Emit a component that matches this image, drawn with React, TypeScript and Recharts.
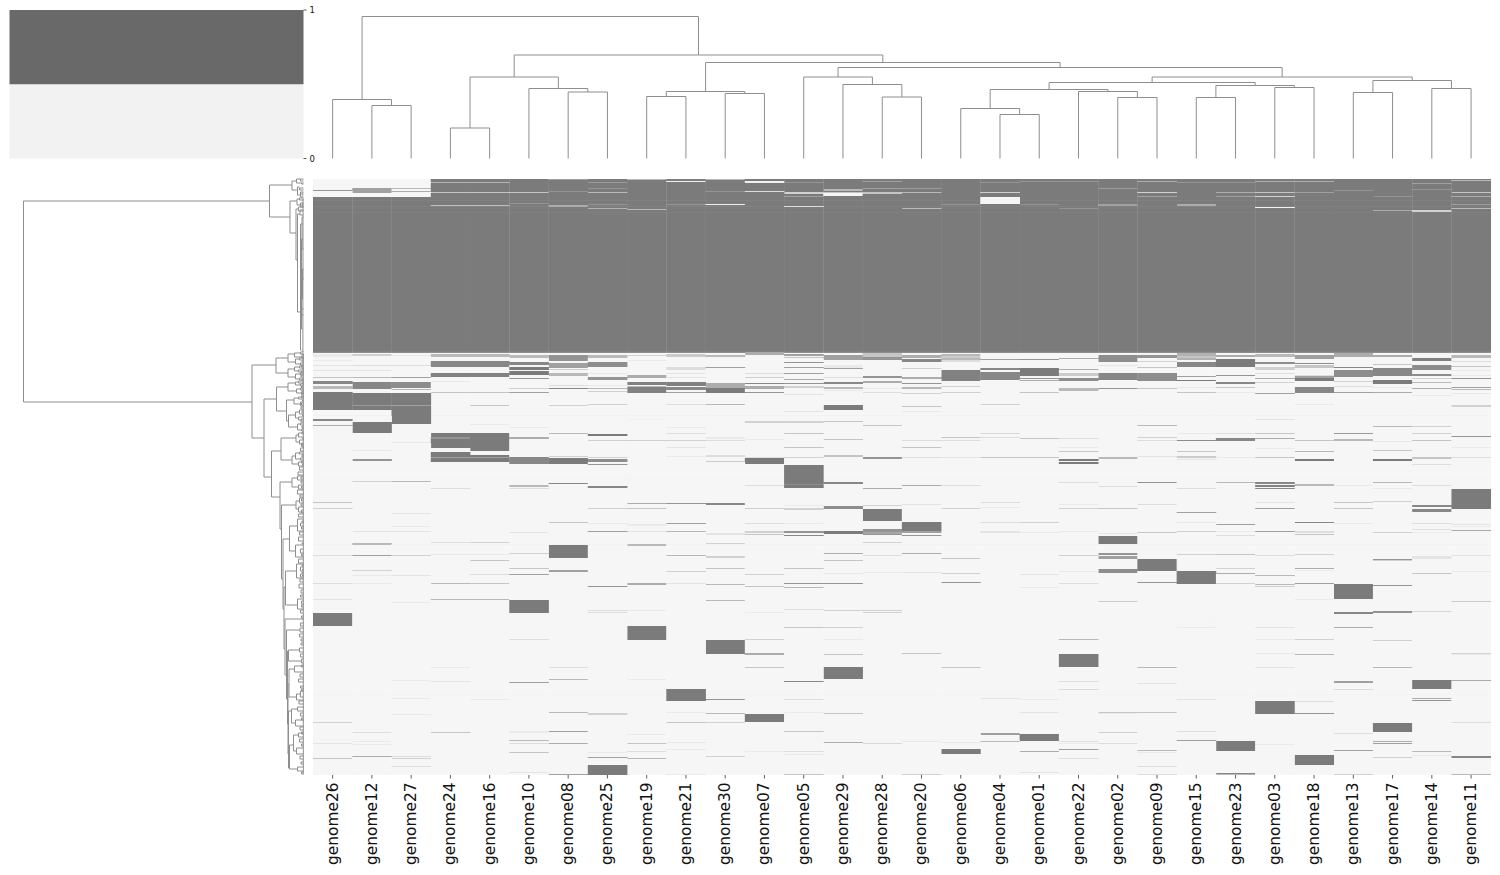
import React from 'react';
import { Bar, BarChart, Line, LineChart, XAxis, YAxis } from 'recharts';

type Band = [number, number, number]; // row, rows tall, level (0 light .. 1 dark)
type Merge = [number, number, number]; // node a, node b, height
type Fork = [number, number, number, number, number]; // rowA, distA, rowB, distB, distMerge

const PAGE_W = 1500;
const PAGE_H = 875;
const ROWS = 596;
const FONT = '"DejaVu Sans", sans-serif';
const LINK = '#8e8e8e';

const genomes = [
  'genome26', 'genome12', 'genome27', 'genome24', 'genome16', 'genome10', 'genome08', 'genome25', 'genome19', 'genome21',
  'genome30', 'genome07', 'genome05', 'genome29', 'genome28', 'genome20', 'genome06', 'genome04', 'genome01', 'genome22',
  'genome02', 'genome09', 'genome15', 'genome23', 'genome03', 'genome18', 'genome13', 'genome17', 'genome14', 'genome11',
];

// rows that every genome shares, the solid core and its faint stripes
const coreBands: Band[] = [[18, 156, 1], [21, 1, 0.96], [27, 1, 0.94], [33, 1, 0.97], [172, 1, 0.95], [173, 1, 0.85], [236, 1, 0.03], [300, 1, 0.02], [365, 1, 0.025], [440, 1, 0.02], [515, 1, 0.025], [560, 1, 0.02]];
const capBand: Band = [0, 18, 1];

const g26: Band[] = [[11, 1, 0.8], [175, 3, 0.1], [181, 1, 0.1], [186, 1, 0.15], [191, 1, 0.15], [198, 1, 0.4], [202, 3, 0.9], [207, 3, 0.5], [213, 18, 1], [240, 2, 0.9], [246, 1, 0.6], [323, 1, 0.4], [329, 1, 0.3], [376, 1, 0.2], [404, 1, 0.2], [420, 1, 0.15], [434, 13, 1], [543, 1, 0.3], [564, 1, 0.15], [579, 1, 0.4]];
const g12: Band[] = [[9, 5, 0.7], [175, 2, 0.3], [186, 1, 0.2], [191, 1, 0.15], [198, 1, 0.5], [203, 7, 0.9], [214, 17, 1], [226, 1, 0.75], [243, 11, 1], [271, 1, 0.1], [280, 2, 0.8], [302, 1, 0.3], [352, 1, 0.15], [364, 2, 0.5], [376, 1, 0.7], [391, 1, 0.3], [396, 1, 0.1], [404, 1, 0.1], [553, 1, 0.2], [562, 1, 0.1], [565, 1, 0.1], [577, 1, 0.6]];
const g27: Band[] = [[9, 1, 0.5], [12, 1, 0.6], [176, 1, 0.1], [186, 1, 0.2], [198, 1, 0.7], [203, 6, 0.85], [210, 1, 0.5], [214, 12, 1], [226, 1, 0.7], [227, 18, 1], [263, 1, 0.1], [302, 1, 0.5], [334, 1, 0.15], [347, 1, 0.1], [352, 1, 0.15], [376, 1, 0.3], [396, 1, 0.15], [423, 1, 0.1], [501, 1, 0.1], [519, 1, 0.1], [535, 1, 0.1], [577, 1, 0.2], [579, 1, 0.3], [587, 1, 0.2]];
const g24: Band[] = [capBand, [3, 1, 0.55], [13, 1, 0.4], [26, 1, 0.45], [175, 3, 0.5], [182, 6, 0.9], [194, 4, 0.95], [202, 1, 0.1], [213, 1, 0.4], [254, 15, 1], [258, 2, 0.8], [273, 10, 1], [278, 1, 0.7], [309, 1, 0.2], [363, 1, 0.2], [375, 1, 0.1], [404, 1, 0.5], [420, 1, 0.5], [488, 1, 0.1], [502, 1, 0.15], [553, 1, 0.4]];
const g16: Band[] = [capBand, [3, 1, 0.55], [13, 1, 0.4], [26, 1, 0.45], [175, 3, 0.5], [182, 6, 0.9], [194, 4, 0.95], [213, 1, 0.4], [226, 1, 0.4], [245, 1, 0.1], [254, 18, 1], [276, 7, 1], [278, 1, 0.7], [363, 1, 0.3], [375, 1, 0.1], [381, 1, 0.4], [395, 1, 0.2], [404, 1, 0.4], [420, 1, 0.5], [520, 1, 0.1]];
const g10: Band[] = [capBand, [13, 1, 0.4], [24, 1, 0.8], [176, 3, 0.5], [183, 3, 0.9], [188, 3, 1], [192, 4, 1], [199, 1, 0.8], [209, 1, 0.3], [213, 1, 0.7], [248, 1, 0.1], [258, 2, 0.6], [278, 7, 0.9], [306, 2, 0.5], [309, 1, 0.2], [353, 1, 0.15], [374, 1, 0.3], [389, 1, 0.4], [395, 1, 0.7], [421, 13, 1], [460, 1, 0.2], [503, 1, 0.7], [552, 2, 0.1], [561, 1, 0.5], [564, 1, 0.2], [573, 1, 0.4], [593, 1, 0.15]];
const g08: Band[] = [capBand, [0, 1, 0.7], [12, 1, 0.8], [26, 2, 0.6], [176, 6, 0.8], [184, 5, 0.7], [190, 1, 0.3], [194, 3, 0.5], [206, 1, 0.2], [209, 1, 0.9], [226, 1, 0.3], [254, 1, 0.5], [277, 1, 0.3], [279, 6, 1], [304, 1, 0.9], [343, 1, 0.4], [366, 13, 1], [391, 2, 0.7], [488, 1, 0.2], [500, 1, 0.5], [533, 1, 0.5], [552, 1, 0.7], [564, 1, 0.6], [595, 1, 0.7]];
const g25: Band[] = [capBand, [3, 1, 0.75], [9, 1, 0.8], [13, 1, 0.5], [25, 1, 0.8], [29, 1, 0.55], [176, 3, 0.5], [183, 5, 0.85], [194, 1, 0.1], [198, 3, 0.8], [206, 1, 0.1], [209, 1, 0.5], [212, 1, 0.3], [225, 1, 0.3], [255, 2, 1], [261, 1, 0.3], [278, 1, 0.3], [280, 3, 0.85], [285, 1, 0.8], [307, 2, 0.9], [329, 1, 0.3], [344, 1, 0.1], [352, 1, 0.7], [407, 1, 0.8], [431, 1, 0.2], [433, 1, 0.2], [534, 2, 0.3], [573, 1, 0.1], [578, 1, 0.7], [586, 10, 1]];
const g19: Band[] = [capBand, [0, 1, 0.5], [30, 1, 0.5], [176, 1, 0.3], [181, 1, 0.1], [196, 3, 0.6], [203, 3, 0.95], [207, 1, 0.5], [208, 6, 0.95], [240, 1, 0.05], [261, 1, 0.3], [324, 1, 0.6], [329, 1, 0.4], [345, 2, 0.1], [352, 1, 0.15], [365, 2, 0.5], [404, 2, 0.6], [431, 1, 0.1], [447, 14, 1], [500, 1, 0.1], [555, 1, 0.1], [564, 1, 0.4], [572, 1, 0.2], [579, 1, 0.5]];
const g21: Band[] = [capBand, [2, 1, 0.05], [25, 1, 0.8], [175, 3, 0.35], [188, 3, 0.2], [194, 1, 0.15], [198, 1, 0.15], [203, 4, 0.95], [208, 3, 0.9], [213, 1, 0.7], [225, 1, 0.2], [248, 1, 0.1], [254, 1, 0.2], [261, 1, 0.3], [268, 1, 0.15], [277, 1, 0.1], [324, 1, 0.8], [344, 1, 0.7], [352, 1, 0.5], [376, 1, 0.5], [392, 1, 0.3], [404, 1, 0.15], [510, 12, 1], [533, 1, 0.1], [543, 1, 0.4], [563, 1, 0.1], [570, 1, 0.1], [595, 1, 0.1]];
const g30: Band[] = [capBand, [0, 1, 0.5], [12, 1, 0.8], [25, 1, 0.05], [176, 2, 0.5], [188, 1, 0.7], [204, 5, 0.6], [209, 5, 1], [225, 1, 0.5], [258, 2, 0.1], [261, 1, 0.2], [276, 2, 0.2], [282, 1, 0.35], [324, 2, 0.9], [354, 2, 0.15], [364, 1, 0.3], [377, 2, 0.3], [389, 1, 0.4], [405, 1, 0.5], [421, 1, 0.5], [461, 14, 1], [520, 1, 0.8], [534, 1, 0.5], [543, 1, 0.3], [577, 1, 0.3]];
const g07: Band[] = [capBand, [2, 2, 0.05], [12, 1, 0.2], [173, 3, 0.6], [194, 1, 0.2], [198, 1, 0.3], [204, 1, 0.9], [207, 3, 0.6], [213, 1, 0.8], [242, 2, 0.3], [260, 1, 0.1], [278, 1, 0.2], [279, 6, 1], [306, 1, 0.2], [329, 1, 0.3], [344, 1, 0.2], [352, 2, 0.3], [355, 1, 0.4], [395, 1, 0.3], [407, 1, 0.4], [433, 1, 0.1], [460, 1, 0.3], [474, 2, 0.6], [488, 1, 0.4], [535, 8, 1], [572, 1, 0.1]];
const g05: Band[] = [capBand, [3, 1, 0.8], [13, 2, 0.3], [17, 1, 0.7], [27, 1, 0.2], [175, 2, 0.7], [178, 1, 0.4], [183, 1, 0.8], [188, 1, 0.7], [194, 1, 0.7], [200, 1, 0.6], [204, 1, 0.8], [207, 2, 0.3], [215, 1, 0.15], [232, 1, 0.15], [242, 2, 0.3], [254, 1, 0.4], [268, 1, 0.4], [278, 1, 0.3], [286, 23, 1], [305, 1, 0.85], [326, 1, 0.1], [329, 2, 0.3], [344, 1, 0.1], [352, 2, 0.8], [356, 1, 0.9], [389, 1, 0.4], [404, 1, 0.8], [408, 1, 0.5], [430, 1, 0.2], [448, 1, 0.4], [502, 1, 0.9], [520, 1, 0.2], [533, 1, 0.1], [552, 1, 0.4], [572, 1, 0.2], [575, 1, 0.1], [595, 1, 0.4]];
const g29: Band[] = [capBand, [10, 2, 0.5], [13, 1, 0.4], [14, 3, 0.02], [176, 5, 0.7], [186, 3, 0.1], [189, 1, 0.7], [198, 1, 0.2], [203, 2, 0.9], [208, 2, 0.5], [211, 1, 0.1], [226, 5, 1], [242, 1, 0.4], [260, 1, 0.4], [276, 2, 0.4], [303, 2, 0.9], [327, 3, 0.85], [352, 3, 1], [374, 1, 0.6], [381, 1, 0.4], [394, 1, 0.1], [404, 1, 0.8], [431, 1, 0.3], [448, 1, 0.3], [460, 1, 0.1], [475, 1, 0.4], [488, 12, 1], [534, 1, 0.4], [563, 1, 0.6]];
const g28: Band[] = [capBand, [2, 1, 0.7], [9, 1, 0.7], [13, 2, 0.4], [174, 4, 0.4], [178, 3, 0.8], [197, 2, 0.8], [202, 2, 0.6], [209, 1, 0.1], [213, 1, 0.2], [246, 1, 0.4], [278, 2, 0.8], [309, 1, 0.6], [326, 1, 0.3], [330, 12, 1], [350, 3, 0.8], [353, 2, 0.65], [355, 1, 0.8], [363, 1, 0.3], [376, 1, 0.2], [393, 1, 0.1], [431, 1, 0.3], [433, 1, 0.3], [564, 1, 0.25]];
const g20: Band[] = [capBand, [9, 1, 0.75], [13, 1, 0.5], [29, 1, 0.5], [176, 3, 0.6], [180, 3, 0.9], [189, 1, 0.3], [198, 2, 0.6], [204, 1, 0.8], [208, 2, 0.5], [214, 1, 0.3], [227, 1, 0.4], [232, 1, 0.1], [261, 1, 0.2], [268, 1, 0.4], [278, 1, 0.2], [306, 1, 0.6], [325, 1, 0.15], [343, 9, 1], [352, 2, 0.7], [356, 1, 0.8], [374, 1, 0.6], [393, 1, 0.15], [474, 1, 0.4], [562, 1, 0.1], [595, 1, 0.3]];
const g06: Band[] = [capBand, [25, 1, 0.8], [175, 2, 0.5], [177, 2, 0.35], [179, 2, 0.5], [181, 2, 0.2], [191, 11, 0.95], [207, 1, 0.3], [213, 1, 0.3], [258, 1, 0.4], [261, 1, 0.2], [278, 1, 0.15], [306, 1, 0.2], [329, 1, 0.3], [379, 1, 0.4], [394, 1, 0.3], [403, 1, 0.8], [488, 1, 0.4], [563, 1, 0.1], [570, 5, 1]];
const g04: Band[] = [capBand, [3, 1, 0.8], [13, 1, 0.3], [18, 7, 0.01], [180, 1, 0.7], [189, 2, 0.9], [193, 5, 0.9], [198, 3, 0.9], [225, 1, 0.3], [254, 1, 0.25], [258, 1, 0.2], [278, 1, 0.4], [323, 1, 0.2], [328, 1, 0.1], [343, 1, 0.2], [352, 2, 0.15], [519, 1, 0.15], [554, 2, 0.7], [562, 1, 0.5]];
const g01: Band[] = [capBand, [2, 1, 0.8], [25, 1, 0.8], [180, 1, 0.8], [189, 8, 1], [199, 1, 0.8], [201, 1, 0.6], [213, 1, 0.4], [259, 1, 0.4], [278, 1, 0.4], [343, 1, 0.3], [353, 1, 0.1], [395, 1, 0.15], [408, 1, 0.1], [520, 1, 0.1], [533, 1, 0.15], [555, 7, 1], [572, 1, 0.6], [593, 1, 0.15]];
const g22: Band[] = [capBand, [2, 1, 0.8], [29, 1, 0.8], [175, 1, 0.02], [179, 1, 0.6], [190, 1, 0.6], [194, 3, 0.35], [199, 3, 0.85], [209, 3, 0.5], [259, 1, 0.2], [268, 1, 0.1], [272, 1, 0.4], [280, 2, 1], [283, 2, 1], [303, 1, 0.2], [325, 1, 0.1], [329, 1, 0.3], [352, 1, 0.1], [376, 1, 0.3], [392, 1, 0.1], [404, 1, 0.2], [460, 1, 0.5], [475, 13, 1], [502, 1, 0.2], [510, 1, 0.2], [562, 1, 0.2], [564, 1, 0.1], [570, 1, 0.7], [579, 1, 0.2]];
const g02: Band[] = [capBand, [9, 1, 0.75], [25, 2, 0.7], [176, 7, 0.85], [186, 1, 0.15], [194, 7, 0.9], [209, 1, 0.8], [278, 2, 0.5], [307, 1, 0.2], [329, 1, 0.4], [354, 1, 0.15], [357, 8, 1], [374, 2, 0.8], [377, 3, 0.7], [390, 4, 0.85], [422, 1, 0.35], [533, 1, 0.4], [534, 1, 0.1], [553, 1, 0.3], [564, 1, 0.2]];
const g09: Band[] = [capBand, [2, 1, 0.6], [13, 1, 0.3], [17, 1, 0.7], [176, 3, 0.8], [182, 1, 0.3], [188, 1, 0.4], [194, 8, 0.85], [209, 1, 0.4], [246, 1, 0.5], [258, 1, 0.3], [261, 1, 0.2], [277, 1, 0.15], [303, 1, 0.8], [325, 1, 0.2], [353, 1, 0.4], [380, 12, 1], [403, 1, 0.8], [488, 1, 0.5], [504, 1, 0.15], [533, 1, 0.4], [571, 1, 0.5], [573, 1, 0.1], [587, 1, 0.2], [595, 1, 0.2]];
const g15: Band[] = [capBand, [3, 1, 0.8], [25, 2, 0.6], [174, 3, 0.55], [177, 2, 0.4], [179, 2, 0.55], [183, 5, 0.9], [197, 1, 0.7], [201, 1, 1], [208, 1, 0.1], [213, 1, 0.4], [254, 1, 0.1], [261, 1, 0.85], [272, 1, 0.4], [277, 2, 0.35], [280, 1, 0.15], [309, 1, 0.2], [333, 1, 0.7], [343, 1, 0.1], [352, 1, 0.3], [375, 1, 0.3], [392, 13, 1], [448, 1, 0.1], [520, 1, 0.15], [552, 1, 0.2], [561, 1, 0.7]];
const g23: Band[] = [capBand, [3, 1, 0.8], [13, 1, 0.6], [17, 1, 0.7], [176, 2, 0.6], [180, 8, 1], [196, 1, 0.8], [203, 2, 0.9], [208, 1, 0.4], [213, 1, 0.1], [254, 1, 0.2], [259, 3, 0.9], [278, 1, 0.1], [303, 1, 0.5], [345, 1, 0.7], [352, 1, 0.1], [356, 1, 0.2], [375, 1, 0.4], [389, 1, 0.3], [394, 1, 0.6], [404, 1, 0.3], [562, 10, 1], [594, 1, 0.9], [595, 1, 0.5]];
const g03: Band[] = [capBand, [2, 1, 0.6], [13, 1, 0.4], [17, 1, 0.3], [28, 1, 0.03], [175, 3, 0.5], [183, 2, 0.85], [188, 3, 0.3], [194, 1, 0.2], [199, 1, 0.6], [203, 1, 0.3], [214, 1, 0.7], [240, 1, 0.15], [254, 1, 0.4], [259, 1, 0.6], [269, 1, 0.1], [278, 1, 0.4], [303, 2, 0.9], [306, 2, 0.95], [309, 1, 0.9], [323, 1, 0.15], [329, 1, 0.7], [352, 1, 0.7], [376, 1, 0.2], [396, 1, 0.5], [405, 1, 0.5], [407, 1, 0.3], [448, 1, 0.15], [460, 1, 0.1], [474, 1, 0.1], [488, 1, 0.15], [522, 13, 1], [565, 1, 0.1]];
const g18: Band[] = [capBand, [2, 1, 0.6], [13, 1, 0.7], [176, 4, 0.7], [184, 1, 0.85], [186, 3, 0.4], [196, 1, 0.2], [197, 2, 0.7], [199, 3, 1], [208, 6, 0.9], [225, 1, 0.1], [261, 1, 0.4], [272, 1, 0.5], [280, 2, 1], [305, 2, 0.5], [343, 1, 0.9], [352, 2, 0.2], [355, 1, 0.4], [375, 1, 0.3], [389, 1, 0.6], [391, 1, 0.1], [404, 1, 0.7], [420, 1, 0.1], [460, 1, 0.3], [475, 1, 0.5], [522, 1, 0.2], [534, 1, 0.8], [576, 10, 1]];
const g13: Band[] = [capBand, [11, 1, 0.8], [174, 4, 0.6], [188, 1, 0.9], [191, 7, 0.85], [202, 1, 0.3], [207, 1, 0.2], [213, 1, 0.7], [254, 1, 0.75], [260, 2, 0.5], [306, 1, 0.1], [323, 1, 0.4], [329, 1, 0.4], [344, 1, 0.1], [405, 15, 1], [433, 2, 0.9], [448, 1, 0.6], [502, 2, 0.7], [510, 1, 0.2], [554, 1, 0.2], [571, 1, 0.7], [595, 1, 0.3]];
const g17: Band[] = [capBand, [17, 1, 0.8], [31, 1, 0.6], [176, 2, 0.6], [185, 1, 0.4], [189, 8, 0.9], [201, 4, 1], [208, 1, 0.1], [213, 1, 0.6], [247, 1, 0.5], [262, 1, 0.1], [271, 1, 0.4], [280, 2, 1], [303, 1, 0.5], [309, 1, 0.1], [322, 1, 0.3], [353, 1, 0.3], [380, 1, 0.8], [381, 1, 0.3], [406, 1, 0.8], [432, 2, 0.8], [461, 1, 0.3], [488, 1, 0.5], [544, 9, 1], [562, 1, 0.6], [564, 1, 0.7], [578, 1, 0.3]];
const g14: Band[] = [capBand, [4, 1, 0.7], [10, 1, 0.8], [31, 2, 0.3], [179, 3, 0.95], [186, 5, 0.85], [195, 2, 0.85], [199, 1, 0.3], [203, 1, 0.5], [209, 1, 0.6], [216, 1, 0.1], [247, 1, 0.3], [254, 1, 0.3], [261, 1, 0.4], [278, 2, 0.4], [285, 1, 0.2], [306, 1, 0.2], [326, 2, 0.9], [330, 3, 0.9], [344, 1, 0.2], [350, 1, 0.2], [353, 1, 0.1], [377, 3, 0.15], [394, 1, 0.4], [432, 1, 0.25], [501, 9, 1], [519, 1, 0.6], [521, 1, 0.8], [572, 1, 0.5], [576, 1, 0.1]];
const g11: Band[] = [capBand, [1, 1, 0.5], [13, 1, 0.4], [17, 1, 0.6], [25, 1, 0.7], [29, 1, 0.5], [176, 3, 0.5], [182, 1, 0.2], [187, 1, 0.4], [191, 1, 0.1], [196, 1, 0.1], [199, 1, 0.8], [208, 1, 0.7], [210, 1, 0.5], [214, 1, 0.1], [226, 2, 0.3], [257, 1, 0.8], [268, 1, 0.1], [278, 1, 0.2], [310, 20, 1], [345, 1, 0.15], [347, 1, 0.1], [351, 1, 0.6], [376, 1, 0.15], [392, 1, 0.1], [422, 1, 0.35], [474, 1, 0.3], [475, 1, 0.1], [501, 1, 0.6], [543, 1, 0.2], [577, 2, 0.9], [595, 1, 0.5]];

const columns = [g26, g12, g27, g24, g16, g10, g08, g25, g19, g21, g30, g07, g05, g29, g28, g20, g06, g04, g01, g22, g02, g09, g15, g23, g03, g18, g13, g17, g14, g11];

// linkage of the columns, leaves are 0..29 and each merge adds the next node id
const columnMerges: Merge[] = [
  [1, 2, 53], [0, 30, 59], [3, 4, 30.5], [6, 7, 66.5], [5, 33, 70], [32, 34, 81.5], [8, 9, 62], [10, 11, 65], [36, 37, 67],
  [14, 15, 61.5], [13, 39, 74], [12, 40, 81.5], [17, 18, 44], [16, 42, 50], [20, 21, 61], [19, 44, 67], [43, 45, 69],
  [22, 23, 61], [24, 25, 71], [47, 48, 73], [46, 49, 76], [26, 27, 66], [28, 29, 70], [51, 52, 78], [50, 53, 81.5],
  [41, 54, 91], [38, 55, 96], [35, 56, 103.5], [31, 57, 142],
];

const mainForks: Fork[] = [
  [22, 34, 223, 51.5, 280], [6, 11.5, 38, 13.5, 34], [22, 6.5, 54, 7.5, 13.5], [30, 5, 81, 6, 7.5], [35, 3.5, 133, 3, 6],
  [45, 1, 171, 2, 3], [60, 0.5, 150, 1, 2], [90, 0, 120, 0.5, 1], [38, 0, 70, 0, 1.5], [100, 0, 173, 0, 0.6], [20, 0, 100, 0, 0.5],
  [186, 27.5, 259, 39.5, 51.5], [179, 15.5, 194, 15.5, 27.5], [175, 9, 183, 8, 15.5], [190, 9, 198, 8, 15.5],
  [220, 27, 298, 32, 39.5], [208, 15.5, 232, 17, 27], [204, 8, 212, 7, 15.5], [221, 9.5, 242, 15, 17], [236, 8, 248, 6, 15],
  [272, 22.5, 318, 23.5, 32], [259, 7.5, 281, 11.5, 22.5], [303, 11.5, 350, 22, 23.5], [326, 7.5, 400, 20.5, 22],
  [360, 14, 430, 19.5, 20.5], [408, 18, 470, 18.5, 19.5], [392, 7, 426, 6, 18], [440, 0, 496, 17, 18.5], [451, 3.5, 520, 16, 17],
  [472, 15, 545, 15.5, 16], [471, 4, 482, 2, 15], [505, 14.5, 575, 15, 15.5], [490, 9, 518, 7, 14.5], [532, 12, 589, 14, 15],
  [530, 6, 544, 8, 12], [566, 10, 590, 6, 14], [556, 5, 572, 7, 10],
];

const tuftForks: Fork[] = [
  [2, 7, 11, 6, 11.5], [0, 3, 4, 2, 7], [8, 4, 16, 3, 6], [0, 0, 2, 0, 3], [4, 0, 5, 0, 2], [9, 0, 11, 0, 4], [13, 0, 18, 0, 3], [14, 0, 16, 0, 1.5],
  [20, 4, 26, 3, 6.5], [19, 0, 21, 0, 4], [24, 0, 28, 0, 3], [25, 0, 27, 0, 1.5], [28, 0, 32, 0, 5], [31, 0, 36, 0, 3.5], [130, 0, 136, 0, 3],
  [174, 3, 178, 2, 9], [173, 0, 175, 0, 3], [177, 0, 179, 0, 2], [180, 4, 185, 3, 8], [179, 0, 181, 0, 4], [184, 0, 186, 0, 3],
  [188, 4, 192, 5, 9], [187, 0, 189, 0, 4], [191, 0, 193, 0, 5], [195, 3, 200, 4, 8], [194, 0, 196, 0, 3], [199, 0, 201, 0, 4],
  [203, 5, 206, 3, 8], [202, 0, 204, 0, 5], [205, 0, 207, 0, 3], [210, 3, 214, 2, 7], [209, 0, 211, 0, 3], [213, 0, 216, 0, 2],
  [219, 5, 225, 3, 9.5], [218, 0, 220, 0, 5], [223, 0, 227, 0, 3], [233, 4, 239, 5, 8], [231, 0, 235, 0, 4], [238, 0, 241, 0, 5],
  [245, 3, 251, 2, 6], [244, 0, 246, 0, 3], [250, 0, 252, 0, 2], [256, 5, 263, 4, 7.5], [254, 0, 258, 0, 5], [261, 0, 265, 0, 4], [264, 0, 267, 0, 2],
  [277, 8, 285, 5, 11.5], [274, 4, 280, 3, 8], [273, 0, 275, 0, 4], [279, 0, 281, 0, 3], [283, 0, 287, 0, 5],
  [299, 6, 308, 5, 11.5], [297, 0, 301, 0, 6], [306, 0, 310, 0, 5], [298, 0, 300, 0, 2.5],
  [322, 4, 330, 5, 7.5], [319, 0, 324, 0, 4], [328, 0, 333, 0, 5], [331, 0, 334, 0, 2],
  [347, 6, 372, 8, 14], [340, 0, 352, 0, 6], [366, 0, 378, 0, 8], [344, 0, 347, 0, 3], [370, 0, 374, 0, 3],
  [385, 0, 399, 0, 7], [420, 0, 430, 0, 6], [388, 0, 392, 0, 3], [395, 0, 398, 0, 3], [422, 0, 425, 0, 2],
  [449, 0, 453, 0, 3.5], [469, 0, 473, 0, 4], [480, 0, 484, 0, 2], [487, 0, 493, 0, 9], [515, 3, 521, 0, 7], [512, 0, 518, 0, 3],
  [528, 0, 532, 0, 6], [541, 0, 547, 0, 8], [554, 0, 558, 0, 5], [569, 0, 575, 0, 7], [588, 0, 592, 0, 6],
];

// the smallest twigs, they pile up into the dark edge next to the heatmap
const twigForks: Fork[] = [
  [175, 0, 176, 0, 1.5], [178, 0, 180, 0, 1], [182, 0, 183, 0, 1.5], [186, 0, 188, 0, 2], [189, 0, 190, 0, 1], [192, 0, 194, 0, 2], [196, 0, 198, 0, 2.5],
  [200, 0, 202, 0, 1.5], [204, 0, 205, 0, 1], [207, 0, 209, 0, 2], [211, 0, 213, 0, 1.5], [214, 0, 215, 0, 1], [217, 0, 219, 0, 2], [221, 0, 222, 0, 1],
  [224, 0, 226, 0, 2], [228, 0, 230, 0, 2.5], [232, 0, 234, 0, 1.5], [236, 0, 237, 0, 1], [240, 0, 243, 0, 2.5], [247, 0, 249, 0, 1.5], [253, 0, 255, 0, 1.5],
  [259, 0, 260, 0, 1], [266, 0, 268, 0, 1.5], [269, 0, 272, 0, 3], [276, 0, 278, 0, 1.5], [282, 0, 284, 0, 2], [285, 0, 286, 0, 1], [288, 0, 291, 0, 4],
  [293, 0, 296, 0, 5.5], [302, 0, 304, 0, 2.5], [307, 0, 309, 0, 2], [311, 0, 315, 0, 6], [316, 0, 318, 0, 3.5], [320, 0, 322, 0, 2], [325, 0, 327, 0, 2.5],
  [335, 0, 338, 0, 5], [342, 0, 343, 0, 1.5], [348, 0, 350, 0, 2], [353, 0, 356, 0, 4], [358, 0, 362, 0, 5], [364, 0, 365, 0, 1.5], [375, 0, 377, 0, 2],
  [380, 0, 384, 0, 5], [386, 0, 387, 0, 1.5], [390, 0, 391, 0, 1], [393, 0, 394, 0, 1.5], [396, 0, 397, 0, 1], [400, 0, 403, 0, 3.5], [405, 0, 409, 0, 4.5],
  [411, 0, 414, 0, 2.5], [416, 0, 418, 0, 3], [426, 0, 428, 0, 2], [431, 0, 434, 0, 3], [437, 0, 439, 0, 2], [444, 0, 447, 0, 3], [455, 0, 458, 0, 4],
  [460, 0, 462, 0, 2.5], [464, 0, 466, 0, 2.5], [475, 0, 478, 0, 3], [486, 0, 488, 0, 2], [495, 0, 498, 0, 3.5], [500, 0, 503, 0, 5], [507, 0, 509, 0, 3],
  [510, 0, 512, 0, 2], [522, 0, 525, 0, 4.5], [534, 0, 537, 0, 3], [539, 0, 541, 0, 2], [548, 0, 551, 0, 3.5], [553, 0, 555, 0, 2], [560, 0, 563, 0, 4],
  [565, 0, 567, 0, 2], [577, 0, 580, 0, 3.5], [583, 0, 585, 0, 2.5], [593, 0, 595, 0, 2], [175, 0, 595, 0, 0.2],
];

const keyData = [{ name: 'key', low: 0.5, high: 0.5 }];
const keyTicks = [0, 1];

// paint a column's bands row by row, then squeeze it down to runs for stacking
function toRuns(bands: Band[]) {
  const painted: number[] = new Array(ROWS).fill(0);
  [...coreBands, ...bands].forEach(([row, tall, level]) => {
    for (let r = row; r < row + tall && r < ROWS; r++) painted[r] = level;
  });
  const runs: { tall: number; level: number }[] = [];
  painted.forEach((level) => {
    const last = runs[runs.length - 1];
    if (last && last.level === level) last.tall += 1;
    else runs.push({ tall: 1, level });
  });
  return runs;
}

const shade = (level: number) => {
  const v = Math.round(246 - level * 123);
  return `rgb(${v},${v},${v})`;
};

const columnRuns = columns.map(toRuns);
const runCount = Math.max(...columnRuns.map((runs) => runs.length));
const runKeys = Array.from({ length: runCount }, (_, i) => `run${i}`);
const heatRows = genomes.map((genome, c) => {
  const row: Record<string, string | number> = { genome };
  columnRuns[c].forEach((run, i) => {
    row[`run${i}`] = run.tall;
  });
  return row;
});

// recharts floors the bar width, so each cell runs a little under its neighbour to close the seam.
// the axis is reversed here, which hands us a negative height
function runShape(runIndex: number) {
  return (props: any) => {
    const run = columnRuns[props.index][runIndex];
    if (!run || !props.height) return <g />;
    const top = Math.min(props.y, props.y + props.height);
    return <rect x={props.x} y={top} width={props.width + 0.6} height={Math.abs(props.height)} fill={shade(run.level)} />;
  };
}

// one broken polyline per dendrogram, null rows lift the pen
function columnLinkPoints() {
  const nodes: { x: number; h: number }[] = genomes.map((_, i) => ({ x: i, h: 0 }));
  const pts: { x: number; h: number | null }[] = [];
  columnMerges.forEach(([a, b, h]) => {
    const l = nodes[a];
    const r = nodes[b];
    pts.push({ x: l.x, h: l.h }, { x: l.x, h }, { x: r.x, h }, { x: r.x, h: r.h }, { x: r.x, h: null });
    nodes.push({ x: (l.x + r.x) / 2, h });
  });
  return pts;
}

function rowLinkPoints() {
  const pts: { dist: number; row: number | null }[] = [];
  [...mainForks, ...tuftForks, ...twigForks].forEach(([rowA, distA, rowB, distB, dist]) => {
    pts.push({ dist: distA, row: rowA }, { dist, row: rowA }, { dist, row: rowB }, { dist: distB, row: rowB }, { dist: distB, row: null });
  });
  return pts;
}

function GenomeTick({ x, y, payload }: any) {
  return (
    <text
      x={x}
      y={y}
      transform={`rotate(-90 ${x} ${y})`}
      textAnchor="end"
      dominantBaseline="central"
      fontFamily={FONT}
      fontSize={15.4}
      fill="#111"
    >
      {payload.value}
    </text>
  );
}

const layer: React.CSSProperties = { position: 'absolute', left: 0, top: 0 };

export default function App() {
  return (
    <div style={{ position: 'absolute', left: 0, top: 0, width: PAGE_W, height: PAGE_H, background: '#fff', overflow: 'hidden' }}>
      <div style={layer}>
        <BarChart width={PAGE_W} height={PAGE_H} data={heatRows} barCategoryGap={0} barGap={0} margin={{ top: 179, left: 313, right: 9.3, bottom: 0 }}>
          <XAxis
            dataKey="genome"
            interval={0}
            height={100}
            axisLine={false}
            tickSize={3.5}
            tickMargin={4}
            tickLine={{ stroke: '#333', strokeWidth: 0.8 }}
            tick={<GenomeTick />}
          />
          <YAxis hide reversed type="number" domain={[0, ROWS]} />
          {runKeys.map((key, i) => (
            <Bar key={key} dataKey={key} stackId="column" isAnimationActive={false} shape={runShape(i)} />
          ))}
        </BarChart>
      </div>
      <div style={layer}>
        <LineChart width={PAGE_W} height={PAGE_H} data={columnLinkPoints()} margin={{ top: 16, left: 313, right: 9.3, bottom: 716.5 }}>
          <XAxis hide type="number" dataKey="x" domain={[-0.5, 29.5]} />
          <YAxis hide type="number" domain={[0, 142.5]} />
          <Line dataKey="h" stroke={LINK} strokeWidth={1} dot={false} isAnimationActive={false} />
        </LineChart>
      </div>
      <div style={layer}>
        <LineChart width={PAGE_W} height={PAGE_H} data={rowLinkPoints()} margin={{ top: 179, left: 23.5, right: 1196.5, bottom: 100 }}>
          <XAxis hide reversed type="number" dataKey="dist" domain={[0, 280]} />
          <YAxis hide reversed type="number" domain={[0, ROWS]} />
          <Line dataKey="row" stroke={LINK} strokeWidth={1} dot={false} isAnimationActive={false} />
        </LineChart>
      </div>
      <div style={layer}>
        <BarChart width={PAGE_W} height={PAGE_H} data={keyData} barCategoryGap={0} margin={{ top: 10, left: 9.5, right: 1166.5, bottom: 716.5 }}>
          <XAxis hide dataKey="name" />
          <YAxis
            orientation="right"
            type="number"
            domain={[0, 1]}
            ticks={keyTicks}
            width={30}
            axisLine={false}
            tickSize={3}
            tickMargin={3}
            tickLine={{ stroke: '#333', strokeWidth: 0.8 }}
            tick={{ fontSize: 8.5, fontFamily: FONT, fill: '#111' }}
          />
          <Bar dataKey="low" stackId="key" fill="#f2f2f2" isAnimationActive={false} />
          <Bar dataKey="high" stackId="key" fill="#696969" isAnimationActive={false} />
        </BarChart>
      </div>
    </div>
  );
}
